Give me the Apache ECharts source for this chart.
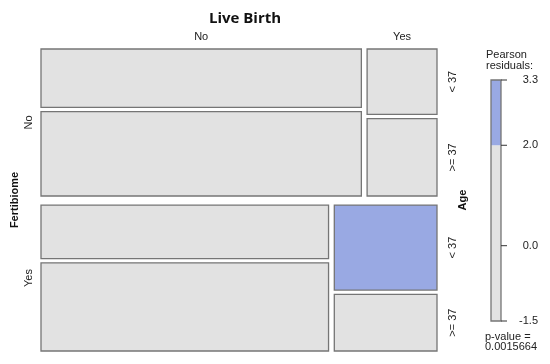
<!DOCTYPE html>
<html>
<head>
<meta charset="utf-8">
<script src="https://cdn.jsdelivr.net/npm/echarts@6/dist/echarts.min.js"></script>
<style>html,body{margin:0;padding:0;background:#fff}#c{width:550px;height:364px}</style>
</head>
<body>
<div id="c"></div>
<script>
// ---- data ----
const fertibiome = ['No', 'Yes'];
const liveBirth = ['No', 'Yes'];
const age = ['< 37', '>= 37'];
// counts[liveBirth][age] for each Fertibiome level
const countsFertNo = [[45, 65], [11, 13]];
const countsFertYes = [[37, 61], [21, 14]];
// Pearson residuals[liveBirth][age] (estimated from shading)
const residFertNo = [[-0.5, 0.3], [0.2, -0.9]];
const residFertYes = [[-1.5, 0.6], [3.3, -0.4]];
const legendTicks = [-1.5, 0.0, 2.0, 3.3];
const legendBreak = 2.0;
const pValue = '0.0015664';

// ---- build mosaic layout (axis units 0..1) ----
const counts = [countsFertNo, countsFertYes];
const resid = [residFertNo, residFertYes];
const gapF = 0.030, gapL = 0.0145, gapA = 0.014;
const sum = a => a.flat(Infinity).reduce((s, v) => s + v, 0);
const N = sum(counts);
const cells = [];
const labels = [];
let y = 0;
const availY = 1 - gapF * (fertibiome.length - 1);
fertibiome.forEach((f, i) => {
  const nF = sum(counts[i]);
  const h = availY * nF / N;
  labels.push({ value: [0, y + h / 2], text: f, dx: -12, dy: 0, rot: true });
  let x = 0;
  const availX = 1 - gapL * (liveBirth.length - 1);
  liveBirth.forEach((l, j) => {
    const nFL = sum(counts[i][j]);
    const w = availX * nFL / nF;
    if (i === 0) labels.push({ value: [x + w / 2, 0], text: l, dx: 0, dy: -12, rot: false });
    let yy = y;
    const availA = h - gapA * (age.length - 1);
    age.forEach((a, k) => {
      const hh = availA * counts[i][j][k] / nFL;
      cells.push([x, x + w, yy, yy + hh, resid[i][j][k]]);
      if (j === liveBirth.length - 1) labels.push({ value: [1, yy + hh / 2], text: a, dx: 16, dy: 0, rot: true });
      yy += hh + gapA;
    });
    x += w + gapL;
  });
  y += h + gapF;
});

const BLUE = '#99a9e3', GREY = '#e2e2e2', STROKE = '#757575';
const legendData = [[legendTicks[0], legendBreak], [legendBreak, legendTicks[legendTicks.length - 1]]];

const chart = echarts.init(document.getElementById('c'), null, { renderer: 'canvas' });
chart.setOption({
  animation: false,
  textStyle: { fontFamily: 'Liberation Sans, Arial, sans-serif' },
  title: {
    text: 'Live Birth', left: 240, top: 6, textAlign: 'center',
    textStyle: { fontFamily: 'Open Sans', fontWeight: 'bold', fontSize: 15, color: '#111' }
  },
  grid: [
    { left: 41, top: 49, width: 396, height: 302 },
    { left: 491, top: 80, width: 10, height: 241 }
  ],
  xAxis: [
    { type: 'value', gridIndex: 0, min: 0, max: 1, show: false },
    { type: 'value', gridIndex: 1, min: 0, max: 1, show: false }
  ],
  yAxis: [
    { type: 'value', gridIndex: 0, min: 0, max: 1, inverse: true, show: false },
    {
      type: 'value', gridIndex: 1, min: legendTicks[0], max: legendTicks[legendTicks.length - 1],
      position: 'right', splitLine: { show: false },
      axisLine: { show: false },
      axisTick: { show: false },
      axisLabel: {
        customValues: legendTicks, formatter: v => Number(v).toFixed(1),
        align: 'right', margin: 37, fontSize: 11, color: '#222',
        fontFamily: 'Liberation Sans, Arial, sans-serif'
      }
    }
  ],
  series: [
    {
      type: 'custom', xAxisIndex: 0, yAxisIndex: 0, data: cells,
      renderItem: (params, api) => {
        const p0 = api.coord([api.value(0), api.value(2)]);
        const p1 = api.coord([api.value(1), api.value(3)]);
        return {
          type: 'rect',
          shape: { x: p0[0], y: p0[1], width: p1[0] - p0[0], height: p1[1] - p0[1] },
          style: { fill: api.value(4) >= legendBreak ? BLUE : GREY, stroke: STROKE, lineWidth: 1.3 }
        };
      }
    },
    {
      type: 'custom', xAxisIndex: 0, yAxisIndex: 0, data: labels.map(l => l.value),
      renderItem: (params, api) => {
        const lb = labels[params.dataIndex];
        const p = api.coord([api.value(0), api.value(1)]);
        return {
          type: 'text', x: p[0] + lb.dx, y: p[1] + lb.dy, rotation: lb.rot ? Math.PI / 2 : 0,
          style: {
            text: lb.text, fill: '#222', fontSize: 11, align: 'center', verticalAlign: 'middle',
            fontFamily: 'Liberation Sans, Arial, sans-serif'
          }
        };
      }
    },
    {
      type: 'custom', xAxisIndex: 1, yAxisIndex: 1, data: legendData,
      renderItem: (params, api) => {
        const p0 = api.coord([0, api.value(1)]);
        const p1 = api.coord([1, api.value(0)]);
        return {
          type: 'rect',
          shape: { x: p0[0], y: p0[1], width: p1[0] - p0[0], height: p1[1] - p0[1] },
          style: { fill: api.value(0) >= legendBreak ? BLUE : GREY }
        };
      }
    },
    {
      type: 'custom', xAxisIndex: 1, yAxisIndex: 1,
      data: [[legendTicks[0], legendTicks[legendTicks.length - 1]]],
      renderItem: (params, api) => {
        const p0 = api.coord([0, api.value(1)]);
        const p1 = api.coord([1, api.value(0)]);
        return {
          type: 'rect', z2: 10,
          shape: { x: p0[0], y: p0[1], width: p1[0] - p0[0], height: p1[1] - p0[1] },
          style: { fill: 'none', stroke: STROKE, lineWidth: 1.3 }
        };
      }
    },
    {
      type: 'custom', xAxisIndex: 1, yAxisIndex: 1,
      data: legendTicks.map(v => [1, v]),
      renderItem: (params, api) => {
        const p = api.coord([api.value(0), api.value(1)]);
        return {
          type: 'line', z2: 11,
          shape: { x1: p[0], y1: p[1], x2: p[0] + 6, y2: p[1] },
          style: { stroke: '#333', lineWidth: 1 }
        };
      }
    }
  ],
  graphic: [
    { type: 'text', x: 15, y: 200, rotation: Math.PI / 2,
      style: { text: 'Fertibiome', fontSize: 11, fontWeight: 'bold', fill: '#111', align: 'center', verticalAlign: 'middle', fontFamily: 'Liberation Sans, Arial, sans-serif' } },
    { type: 'text', x: 463, y: 200, rotation: Math.PI / 2,
      style: { text: 'Age', fontSize: 11, fontWeight: 'bold', fill: '#111', align: 'center', verticalAlign: 'middle', fontFamily: 'Liberation Sans, Arial, sans-serif' } },
    { type: 'text', x: 486, y: 49,
      style: { text: 'Pearson\nresiduals:', fontSize: 11, lineHeight: 11, fill: '#222', align: 'left', verticalAlign: 'top', fontFamily: 'Liberation Sans, Arial, sans-serif' } },
    { type: 'text', x: 485, y: 332,
      style: { text: 'p-value =\n' + pValue, fontSize: 11, lineHeight: 10, fill: '#222', align: 'left', verticalAlign: 'top', fontFamily: 'Liberation Sans, Arial, sans-serif' } }
  ]
});
</script>
</body>
</html>
